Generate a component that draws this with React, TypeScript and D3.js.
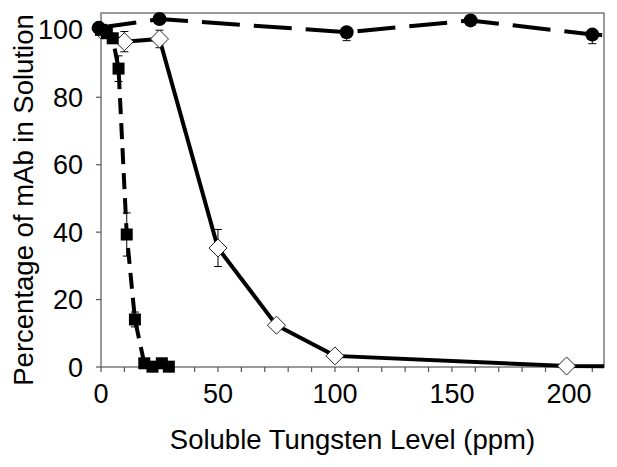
import React from "react";
import * as d3 from "d3";

// Data
const circleX = [-1, 25, 105, 158, 210, 230];
const circleY = [100.6, 103.2, 99.3, 102.8, 98.6, 98.0];
const circleErrLow = [0, 0, 2.5, 0, 2.7, 0];
const circleErrHigh = [0, 0, 0, 0, 0, 0];

const squareX = [0, 2.5, 5, 7.5, 11, 14.5, 18.5, 22, 26, 29];
const squareY = [100, 99, 97.5, 88.5, 39.3, 14.1, 1.1, 0.1, 1.1, 0.1];
const squareErr = [0, 0, 0, 3.8, 6.4, 2.2, 0, 0, 0, 0];

const diamondX = [0, 10, 25, 50, 75, 100, 199, 250];
const diamondY = [100, 96.5, 97.3, 35.3, 12.4, 3.3, 0.3, 0];
const diamondErr = [0, 3, 2.6, 5.5, 0, 0, 0, 0];

const xTicksLabeled = [0, 50, 100, 150, 200];
const yTicks = [0, 20, 40, 60, 80, 100];

const xTitle = "Soluble Tungsten Level (ppm)";
const yTitle = "Percentage of mAb in Solution";

export default function App() {
  const W = 617, H = 467;
  const left = 101, right = 604, top = 13, bottom = 367;
  const x = d3.scaleLinear().domain([0, 215]).range([left, right]);
  const y = d3.scaleLinear().domain([0, 105]).range([bottom, top]);
  const font = "'Liberation Sans', Arial, Helvetica, sans-serif";

  const mk = (xs: number[], ys: number[]) =>
    d3.line<number>()
      .x((d) => x(xs[d]))
      .y((d) => y(ys[d]))(xs.map((_, i) => i)) || "";

  const errBars = (xs: number[], ys: number[], lo: number[], hi: number[], key: string) =>
    xs.map((xv, i) =>
      lo[i] > 0 || hi[i] > 0 ? (
        <g key={key + i} stroke="#000" strokeWidth={1}>
          <line x1={x(xv)} x2={x(xv)} y1={y(ys[i] - lo[i])} y2={y(ys[i] + hi[i])} />
          {lo[i] > 0 && <line x1={x(xv) - 4} x2={x(xv) + 4} y1={y(ys[i] - lo[i])} y2={y(ys[i] - lo[i])} />}
          {hi[i] > 0 && <line x1={x(xv) - 4} x2={x(xv) + 4} y1={y(ys[i] + hi[i])} y2={y(ys[i] + hi[i])} />}
        </g>
      ) : null
    );

  const xMinor = d3.range(0, 211, 10);

  return (
    <svg width={W} height={H} style={{ position: "absolute", left: 0, top: 0, background: "#fff" }}>
      <defs>
        <clipPath id="plot">
          <rect x={left - 10} y={0} width={right - left + 10} height={bottom + 8} />
        </clipPath>
      </defs>
      <rect x={left} y={top} width={right - left} height={bottom - top} fill="none" stroke="#7a7a7a" strokeWidth={1.5} />
      {xMinor.map((t) => (
        <line key={"xt" + t} x1={x(t)} x2={x(t)} y1={bottom} y2={bottom + 5} stroke="#555" strokeWidth={1.2} />
      ))}
      {yTicks.map((t) => (
        <line key={"yt" + t} x1={left - 5} x2={left} y1={y(t)} y2={y(t)} stroke="#555" strokeWidth={1.2} />
      ))}
      {xTicksLabeled.map((t) => (
        <text key={"xl" + t} x={x(t)} y={403} textAnchor="middle" fontFamily={font} fontSize={27} fill="#000">
          {t}
        </text>
      ))}
      {yTicks.map((t) => (
        <text key={"yl" + t} x={83} y={y(t) + 9.5} textAnchor="end" fontFamily={font} fontSize={27} fill="#000">
          {t}
        </text>
      ))}
      <text x={(left + right) / 2} y={449} textAnchor="middle" fontFamily={font} fontSize={27.5} fill="#000">
        {xTitle}
      </text>
      <text
        transform={`translate(33, ${(top + bottom) / 2 + 10}) rotate(-90)`}
        textAnchor="middle"
        fontFamily={font}
        fontSize={27.5}
        fill="#000"
      >
        {yTitle}
      </text>

      <g clipPath="url(#plot)">
        <path d={mk(diamondX, diamondY)} fill="none" stroke="#000" strokeWidth={4} />
        {errBars(diamondX, diamondY, diamondErr, diamondErr, "de")}
        {diamondX.map((xv, i) => (
          <path
            key={"dm" + i}
            d={`M${x(xv)},${y(diamondY[i]) - 9}L${x(xv) + 9},${y(diamondY[i])}L${x(xv)},${y(diamondY[i]) + 9}L${x(xv) - 9},${y(diamondY[i])}Z`}
            fill="#fff"
            stroke="#222"
            strokeWidth={1}
          />
        ))}
        <path d={mk(squareX, squareY)} fill="none" stroke="#000" strokeWidth={4} strokeDasharray="16,9" />
        {errBars(squareX, squareY, squareErr, squareErr, "se")}
        {squareX.map((xv, i) => (
          <rect key={"sq" + i} x={x(xv) - 6} y={y(squareY[i]) - 6} width={12} height={12} fill="#000" />
        ))}
        <path d={mk(circleX, circleY)} fill="none" stroke="#000" strokeWidth={4} strokeDasharray="38,14" />
        {errBars(circleX, circleY, circleErrLow, circleErrHigh, "ce")}
        {circleX.map((xv, i) => (
          <circle key={"ci" + i} cx={x(xv)} cy={y(circleY[i])} r={7} fill="#000" />
        ))}
      </g>
    </svg>
  );
}
